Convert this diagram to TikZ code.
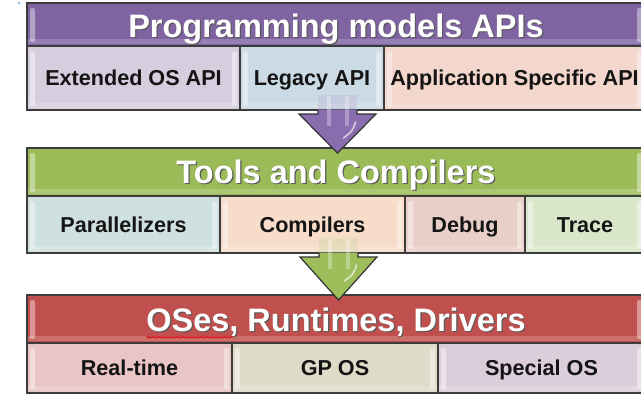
\documentclass[tikz,border=0pt]{standalone}
\usepackage{fontspec}
\setmainfont{Liberation Sans}
\usetikzlibrary{calc,decorations.pathmorphing}

\definecolor{hdrPurple}{HTML}{8064A2}
\definecolor{hdrGreen}{HTML}{9BBB59}
\definecolor{hdrRed}{HTML}{C0504D}
\definecolor{arrPurple}{HTML}{8A6DAF}
\definecolor{arrGreen}{HTML}{9DBE5A}
\definecolor{cExt}{HTML}{D6CDDE}
\definecolor{cLeg}{HTML}{CBDBE5}
\definecolor{cApp}{HTML}{F3D6CC}
\definecolor{cPar}{HTML}{CFE0E0}
\definecolor{cComp}{HTML}{F6DCC9}
\definecolor{cDbg}{HTML}{E8D0C8}
\definecolor{cTrc}{HTML}{DAE6CA}
\definecolor{cRt}{HTML}{E9C5C5}
\definecolor{cGp}{HTML}{DEDCC9}
\definecolor{cSp}{HTML}{DCCDDB}
\definecolor{edge}{HTML}{3C3C3C}

% block arrow: #1 = centre of the top of the shaft, #2 = tip, #3 = fill colour
\newcommand\blockarrow[3]{%
  \fill[#3!60!white, fill opacity=0.3] ($(#1)+(-19.5,-15)$) rectangle ($(#1)+(19.5,0)$);
  \filldraw[arrowline, fill=#3]
    ($(#1)+(-19.5,0)$) -- ($(#1)+(-19.5,4)$) -- ($(#1)+(-38.5,4)$) -- (#2)
    -- ($(#1)+(38.5,4)$) -- ($(#1)+(19.5,4)$) -- ($(#1)+(19.5,0)$);
  \fill[white, fill opacity=0.3] ($(#1)+(-11,-14)$) rectangle ($(#1)+(-7,16)$);
  \fill[white, fill opacity=0.3] ($(#1)+(7,-14)$) rectangle ($(#1)+(11,16)$);
  \draw[white, opacity=0.6, line width=1.8pt, line cap=round]
    ($(#1)+(18,12)$) .. controls ($(#1)+(15,21)$) .. ($(#1)+(6,28)$);
}

\begin{document}
\begin{tikzpicture}[x=1pt, y=-1pt,
  gloss/.style={path picture={
    \fill[white, fill opacity=0.4, rounded corners=2pt]
      ([xshift=3pt,yshift=4pt]path picture bounding box.south west)
      rectangle ([xshift=8pt,yshift=-5pt]path picture bounding box.north west);
    \fill[white, fill opacity=0.4, rounded corners=2pt]
      ([xshift=-3pt,yshift=4pt]path picture bounding box.south east)
      rectangle ([xshift=-8pt,yshift=-5pt]path picture bounding box.north east);
    \fill[white, fill opacity=0.18]
      ([yshift=2pt]path picture bounding box.south west)
      rectangle ([yshift=7pt]path picture bounding box.south east);
  }},
  frame/.style={draw=edge, line width=1.3pt, inner sep=0pt, outer sep=0pt,
    anchor=north west, gloss},
  header/.style={frame},
  subbox/.style={frame, font=\fontsize{21.6}{24}\selectfont\bfseries,
    text=black!92, text height=15pt, text depth=0pt},
  htext/.style={font=\fontsize{32.5}{36}\selectfont\bfseries, text=white,
    inner sep=0pt, text height=22pt, text depth=0pt},
  hshadow/.style={htext, text=black!65},
  arrowline/.style={draw=black!80, line width=1.2pt, line join=miter},
]
\useasboundingbox (0,0) rectangle (641,397);
\fill[white] (0,0) rectangle (641,397);
\begin{scope}
\clip (0,0) rectangle (641,397);

\fill[cyan!70!blue!50] (19,3) circle (1.3);

% ---- programming models ----
\node[header, fill=hdrPurple, minimum width=618, minimum height=43] (h1) at (27,3) {};
\node[subbox, fill=cExt, minimum width=213, minimum height=64] (ext) at (27,46) {Extended OS API};
\node[subbox, fill=cLeg, minimum width=144, minimum height=64] (leg) at (240,46) {Legacy API};
\node[subbox, fill=cApp, minimum width=261, minimum height=64] (app) at (384,46) {Application Specific API};
\node[hshadow] at ($(h1.center)+(1.2,3.2)$) {Programming models APIs};
\node[htext] (h1t) at ($(h1.center)+(0,2)$) {Programming models APIs};

% ---- tools ----
\node[header, fill=hdrGreen, minimum width=618, minimum height=48] (h2) at (27,148) {};
\node[subbox, fill=cPar, minimum width=193, minimum height=57] (par) at (27,196) {Parallelizers};
\node[subbox, fill=cComp, minimum width=185, minimum height=57] (comp) at (220,196) {Compilers};
\node[subbox, fill=cDbg, minimum width=120, minimum height=57] (dbg) at (405,196) {Debug};
\node[subbox, fill=cTrc, minimum width=120, minimum height=57] (trc) at (525,196) {Trace};
\node[hshadow] at ($(h2.center)+(1.2,1.2)$) {Tools and Compilers};
\node[htext] (h2t) at (h2.center) {Tools and Compilers};

% ---- operating systems ----
\node[header, fill=hdrRed, minimum width=618, minimum height=48] (h3) at (27,295) {};
\node[subbox, fill=cRt, minimum width=205, minimum height=50] (rt) at (27,343) {Real-time};
\node[subbox, fill=cGp, minimum width=206, minimum height=50] (gp) at (232,343) {GP OS};
\node[subbox, fill=cSp, minimum width=207, minimum height=50] (sp) at (438,343) {Special OS};
\node[hshadow] at ($(h3.center)+(1.2,2.2)$) {OSes, Runtimes, Drivers};
\node[htext] (h3t) at ($(h3.center)+(0,1)$) {OSes, Runtimes, Drivers};
\draw[red!85!black, line width=0.7pt, decorate,
  decoration={snake, amplitude=0.9pt, segment length=3pt}]
  ($(h3t.south west)+(0,6)$) -- ($(h3t.south west)+(87,6)$);

% ---- block arrows between the layers ----
\coordinate (a1) at (337.5,110);
\coordinate (a1tip) at (337.5,153);
\coordinate (a2) at (338.5,253);
\coordinate (a2tip) at (338.5,300);
\blockarrow{a1}{a1tip}{arrPurple}
\blockarrow{a2}{a2tip}{arrGreen}
\end{scope}
\end{tikzpicture}
\end{document}
